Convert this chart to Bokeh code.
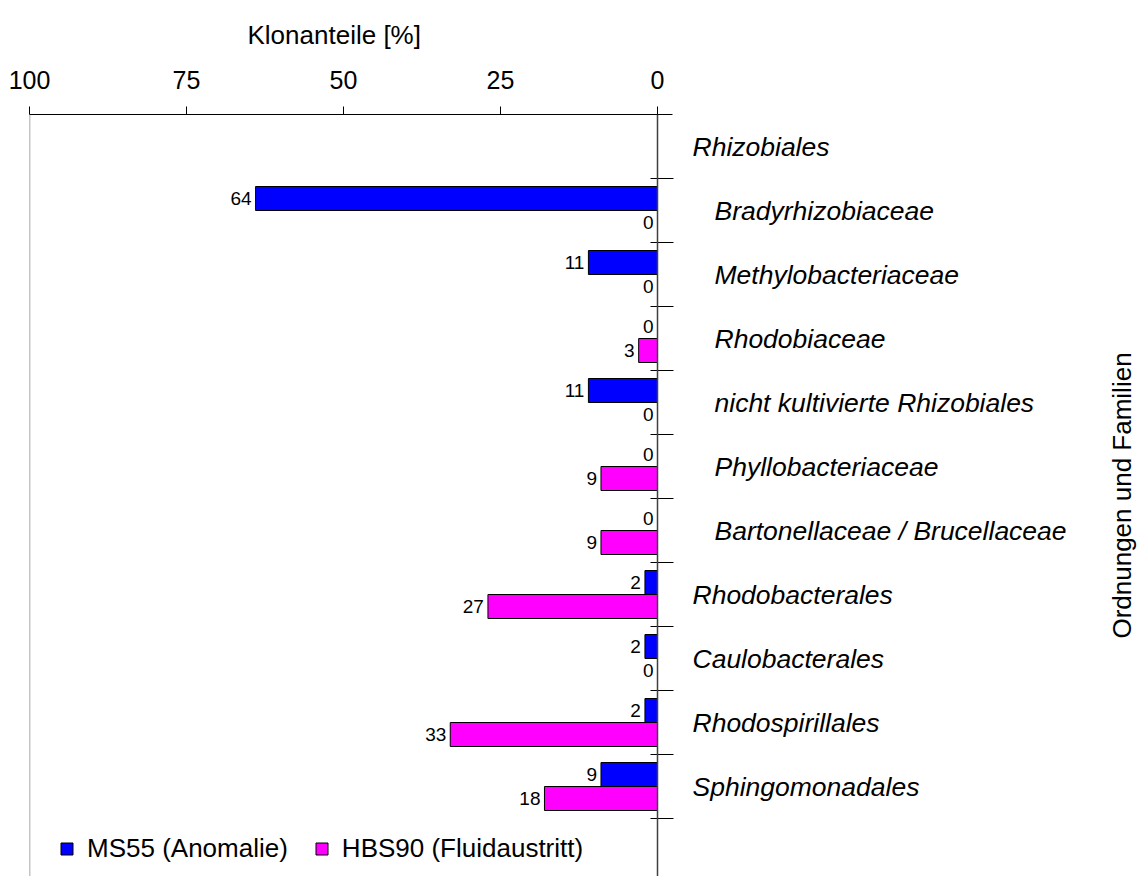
import math
from bokeh.plotting import figure
from bokeh.models import (Range1d, Span, ColumnDataSource, Legend,
                          LegendItem, FixedTicker, Label)
from bokeh.embed import file_html
from bokeh.resources import INLINE
from bokeh.core.properties import value

# ---------------- data ----------------
categories = ["Rhizobiales", "Bradyrhizobiaceae", "Methylobacteriaceae",
              "Rhodobiaceae", "nicht kultivierte Rhizobiales",
              "Phyllobacteriaceae", "Bartonellaceae / Brucellaceae",
              "Rhodobacterales", "Caulobacterales", "Rhodospirillales",
              "Sphingomonadales"]
is_family = [False, True, True, True, True, True, True,
             False, False, False, False]
ms55 = [None, 64, 11, 0, 11, 0, 0, 2, 2, 2, 9]
hbs90 = [None, 0, 0, 3, 0, 9, 9, 27, 0, 33, 18]
series_names = ["MS55 (Anomalie)", "HBS90 (Fluidaustritt)"]
series_colors = ["#0000FF", "#FF00FF"]
x_ticks = [100, 75, 50, 25, 0]
x_title = "Klonanteile [%]"
y_title = "Ordnungen und Familien"

FONT = "Liberation Sans"
PX_PER_UNIT = 6.28
W, H = 1138, 876
BL, BT, BR = 29, 114, 0
frame_w = W - BL - BR
frame_h = H - BT
ROW_PX = 64
y_lo, y_hi = -0.5, -0.5 + frame_h / ROW_PX

p = figure(width=W, height=H, output_backend="svg", toolbar_location=None,
           x_range=Range1d(100, 100 - frame_w / PX_PER_UNIT),
           y_range=Range1d(y_hi, y_lo),
           x_axis_location="above", y_axis_location=None,
           min_border_left=BL, min_border_top=BT, min_border_bottom=0,
           min_border_right=BR)
p.outline_line_color = None
p.grid.grid_line_color = None
p.background_fill_color = "white"

# title used as the x-axis caption
p.title.text = x_title
p.title.align = "left"
p.title.offset = 218
p.title.text_font = FONT
p.title.text_font_size = "26px"
p.title.text_font_style = "normal"
p.title.text_color = "black"
p.title.standoff = 35

# top axis
ax = p.xaxis[0]
ax.ticker = FixedTicker(ticks=x_ticks)
ax.bounds = (-15 / PX_PER_UNIT, 100)
ax.minor_tick_line_color = None
ax.major_tick_out = 8
ax.major_tick_in = 0
ax.major_label_standoff = 18
ax.major_label_text_font = FONT
ax.major_label_text_font_size = "25px"
ax.major_label_text_color = "black"
ax.axis_line_color = "black"
ax.major_tick_line_color = "black"

# right-hand caption, reading bottom to top
p.add_layout(Label(x=0, y=(y_lo + y_hi) / 2, x_offset=464, text=y_title,
                   angle=math.pi / 2, text_align="center",
                   text_baseline="middle", text_font=FONT,
                   text_font_size="26px", text_color="black"))

# frame lines
p.add_layout(Span(location=100, dimension="height", line_color="#8c8c8c", line_width=1.5))
p.add_layout(Span(location=0, dimension="height", line_color="#404040", line_width=1.5))

rows = list(range(len(categories)))
bar_rows = [i for i in rows if ms55[i] is not None]
off = 0.1875
src1 = ColumnDataSource(dict(y=[i - off for i in bar_rows],
                             v=[ms55[i] for i in bar_rows],
                             lab=[str(ms55[i]) for i in bar_rows]))
src2 = ColumnDataSource(dict(y=[i + off for i in bar_rows],
                             v=[hbs90[i] for i in bar_rows],
                             lab=[str(hbs90[i]) for i in bar_rows]))

r1 = p.hbar(y="y", left=0, right="v", height=0.375, source=src1,
            fill_color=series_colors[0], line_color="black", line_width=1)
r2 = p.hbar(y="y", left=0, right="v", height=0.375, source=src2,
            fill_color=series_colors[1], line_color="black", line_width=1)

for src in (src1, src2):
    p.text(x="v", y="y", text="lab", source=src, x_offset=-4,
           text_align="right", text_baseline="middle",
           text_font=value(FONT), text_font_size="19px", text_color="black")

# row separators on the zero line
sep = [i + 0.5 for i in rows]
p.segment(x0=7 / PX_PER_UNIT, x1=-16 / PX_PER_UNIT, y0=sep, y1=sep,
          line_color="black", line_width=1)

# category labels
cat_src = ColumnDataSource(dict(x=[0] * len(categories), y=rows, t=categories,
                                xo=[57 if f else 35 for f in is_family]))
p.text(x="x", y="y", text="t", x_offset="xo", source=cat_src,
       text_align="left", text_baseline="middle", text_font=value(FONT),
       text_font_style="italic", text_font_size="26.5px", text_color="black")

legend = Legend(items=[LegendItem(label=series_names[0], renderers=[r1]),
                       LegendItem(label=series_names[1], renderers=[r2])],
                orientation="horizontal", location=(30, 12),
                padding=0, margin=0, spacing=26, label_standoff=13,
                glyph_width=15, glyph_height=15, label_height=16,
                label_text_font=FONT, label_text_font_size="26px",
                label_text_color="black",
                background_fill_alpha=0, border_line_color=None)
p.add_layout(legend)

open("out.html", "w").write(file_html(p, INLINE))
